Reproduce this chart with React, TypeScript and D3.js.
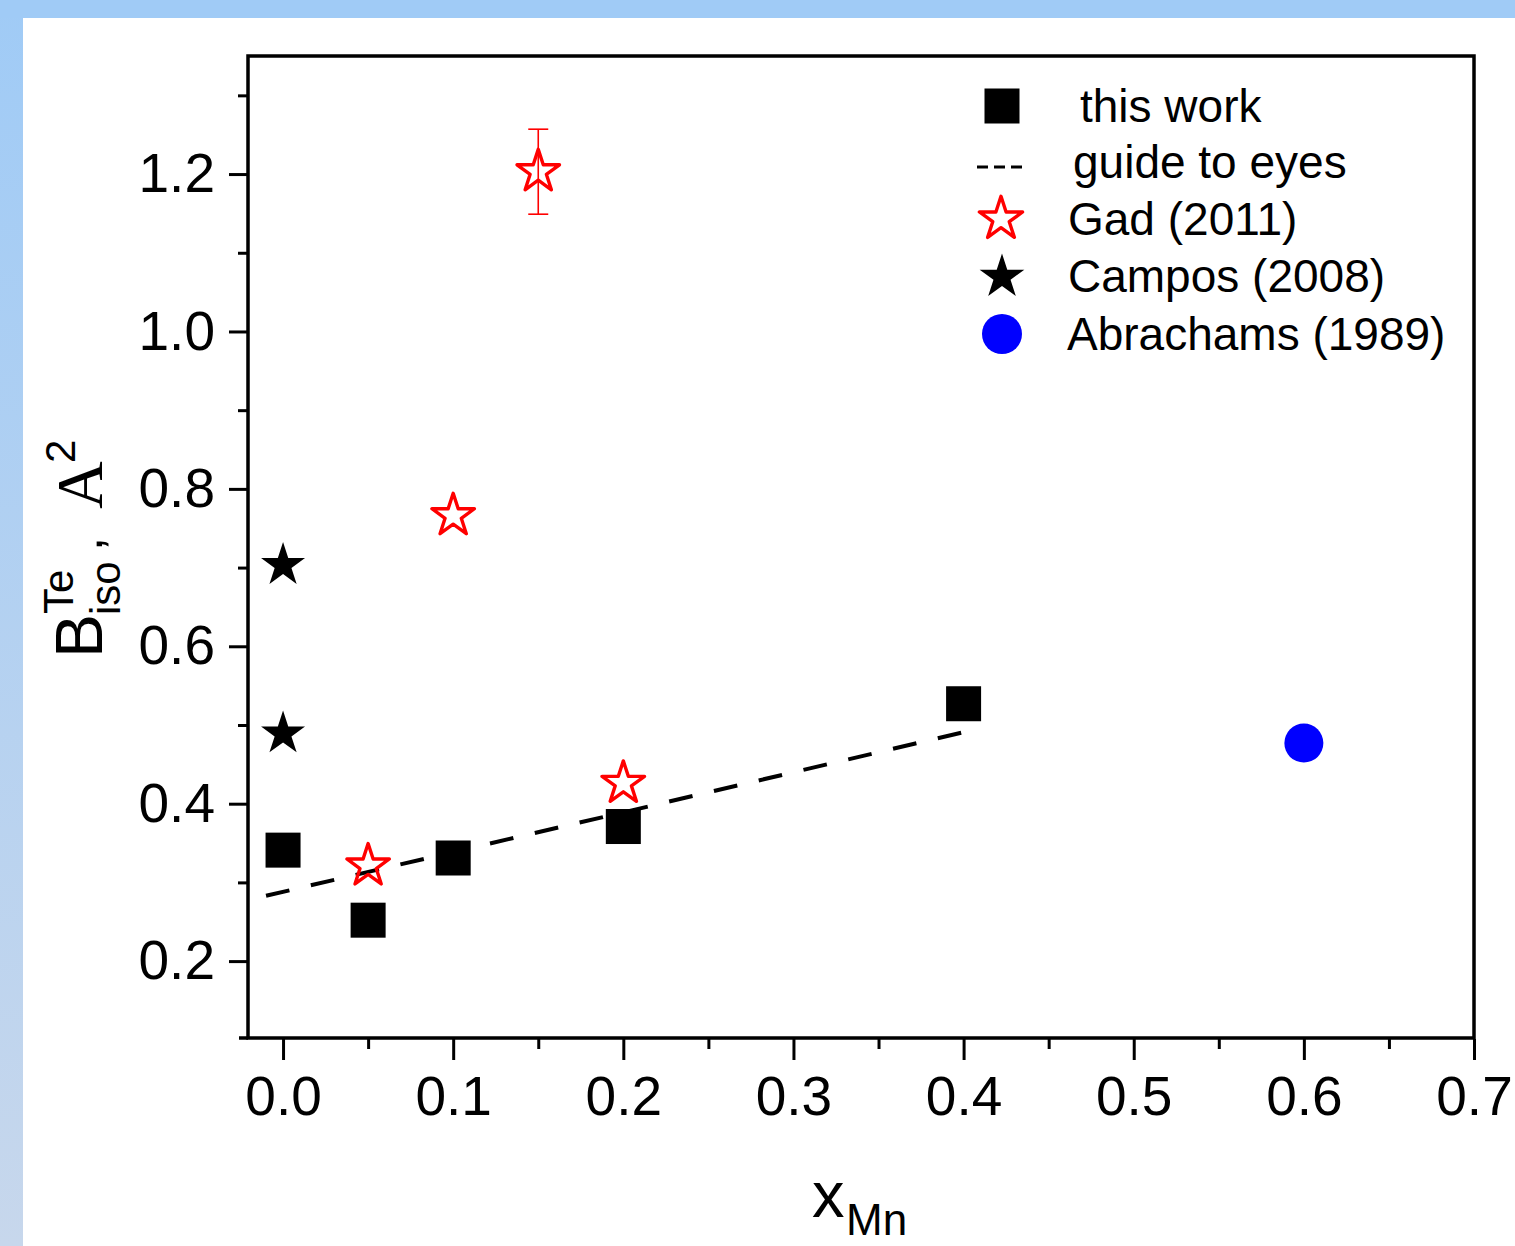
import React, { useRef, useEffect } from "react";
import * as d3 from "d3";

// values
const thisWorkX = [0, 0.05, 0.1, 0.2, 0.4];
const thisWorkY = [0.341, 0.252, 0.331, 0.371, 0.527];

const guideX = [-0.01, 0.2, 0.41];
const guideY = [0.283, 0.389, 0.496];

const gadX = [0.05, 0.1, 0.15, 0.2];
const gadY = [0.321, 0.766, 1.203, 0.426];
const gadErr = [0, 0, 0.054, 0];

const camposX = [0, 0];
const camposY = [0.703, 0.489];

const abrachamsX = [0.6];
const abrachamsY = [0.477];

const xMajor = [0, 0.1, 0.2, 0.3, 0.4, 0.5, 0.6, 0.7];
const xMinor = [0.05, 0.15, 0.25, 0.35, 0.45, 0.55, 0.65];
const yMajor = [0.2, 0.4, 0.6, 0.8, 1.0, 1.2];
const yMinor = [0.3, 0.5, 0.7, 0.9, 1.1, 1.3];

const legendItems = ["this work", "guide to eyes", "Gad (2011)", "Campos (2008)", "Abrachams (1989)"];

const W = 1515;
const H = 1246;
const FONT = "'Liberation Sans', Arial, sans-serif";

const App = () => {
  const gx = useRef<SVGGElement>(null);
  const gxMinor = useRef<SVGGElement>(null);
  const gy = useRef<SVGGElement>(null);
  const gyMinor = useRef<SVGGElement>(null);

  const left = 248;
  const right = 1474;
  const top = 56;
  const bottom = 1038;

  const x = d3.scaleLinear().domain([-0.0206, 0.7]).range([left, right]);
  const y = d3.scaleLinear().domain([0.1023, 1.35]).range([bottom, top]);

  useEffect(() => {
    const style = (g) => {
      g.select(".domain").remove();
      g.selectAll(".tick line").attr("stroke", "#000").attr("stroke-width", 3);
      g.selectAll(".tick text")
        .attr("fill", "#000")
        .style("font-family", FONT)
        .style("font-size", "55px");
    };
    d3.select(gx.current)
      .call(d3.axisBottom(x).tickValues(xMajor).tickSize(21).tickPadding(16).tickFormat(d3.format(".1f")))
      .call(style);
    d3.select(gxMinor.current)
      .call(d3.axisBottom(x).tickValues(xMinor).tickSize(10).tickFormat(() => ""))
      .call(style);
    d3.select(gy.current)
      .call(d3.axisLeft(y).tickValues(yMajor).tickSize(18).tickPadding(14).tickFormat(d3.format(".1f")))
      .call(style);
    d3.select(gyMinor.current)
      .call(d3.axisLeft(y).tickValues(yMinor).tickSize(9).tickFormat(() => ""))
      .call(style);
  }, []);

  // stars drawn a bit larger than d3's default proportions suggest
  const openStar = d3.symbol(d3.symbolStar, 560)();
  const filledStar = d3.symbol(d3.symbolStar, 600)();
  const legendOpenStar = d3.symbol(d3.symbolStar, 580)();
  const legendFilledStar = d3.symbol(d3.symbolStar, 620)();
  const guide = d3
    .line<number>()
    .x((d, i) => x(guideX[i]))
    .y((d) => y(d))(guideY);

  const sq = 35;
  const legX = 1002;
  const legRows = [106, 164, 219, 277, 334];

  return (
    <div style={{ position: "fixed", left: 0, top: 0, width: W, height: H, overflow: "hidden" }}>
      <svg width={W} height={H} style={{ display: "block" }}>
        <defs>
          <linearGradient id="edge" x1="0" y1="0" x2="0" y2="1">
            <stop offset="0" stopColor="#a0cbf6" />
            <stop offset="1" stopColor="#c7d7ec" />
          </linearGradient>
        </defs>
        <rect x={0} y={0} width={W} height={H} fill="#fff" />
        <rect x={0} y={0} width={23} height={H} fill="url(#edge)" />
        <rect x={0} y={0} width={W} height={18} fill="#a0cbf6" />

        {/* frame */}
        <rect x={left} y={top} width={right - left} height={bottom - top} fill="none" stroke="#000" strokeWidth={3.5} />
        <line x1={239} x2={left} y1={bottom} y2={bottom} stroke="#000" strokeWidth={3.5} />

        <g ref={gx} transform={`translate(0, ${bottom + 1})`} />
        <g ref={gxMinor} transform={`translate(0, ${bottom + 1})`} />
        <g ref={gy} transform={`translate(${left - 1}, 0)`} />
        <g ref={gyMinor} transform={`translate(${left - 1}, 0)`} />

        {/* guide to eyes */}
        <path d={guide} fill="none" stroke="#000" strokeWidth={4} strokeDasharray="24 22" />

        {/* this work */}
        {thisWorkX.map((d, i) => (
          <rect key={i} x={x(d) - sq / 2} y={y(thisWorkY[i]) - sq / 2} width={sq} height={sq} fill="#000" />
        ))}

        {/* Gad error bars + stars */}
        {gadX.map((d, i) =>
          gadErr[i] > 0 ? (
            <g key={"e" + i} stroke="red" strokeWidth={1.6}>
              <line x1={x(d)} x2={x(d)} y1={y(gadY[i] + gadErr[i])} y2={y(gadY[i] - gadErr[i])} />
              <line x1={x(d) - 10} x2={x(d) + 10} y1={y(gadY[i] + gadErr[i])} y2={y(gadY[i] + gadErr[i])} />
              <line x1={x(d) - 10} x2={x(d) + 10} y1={y(gadY[i] - gadErr[i])} y2={y(gadY[i] - gadErr[i])} />
            </g>
          ) : null
        )}
        {gadX.map((d, i) => (
          <path key={i} d={openStar} transform={`translate(${x(d)}, ${y(gadY[i])})`} fill="none" stroke="red" strokeWidth={3.4} strokeLinejoin="round" />
        ))}

        {/* Campos */}
        {camposX.map((d, i) => (
          <path key={i} d={filledStar} transform={`translate(${x(d)}, ${y(camposY[i])})`} fill="#000" />
        ))}

        {/* Abrachams */}
        {abrachamsX.map((d, i) => (
          <circle key={i} cx={x(d)} cy={y(abrachamsY[i])} r={19.5} fill="#0000ff" />
        ))}

        {/* legend */}
        <g style={{ fontFamily: FONT, fontSize: 46 }} fill="#000">
          <rect x={legX - 17.5} y={legRows[0] - 17.5} width={35} height={35} fill="#000" />
          <line x1={977} x2={1022} y1={legRows[1] + 3} y2={legRows[1] + 3} stroke="#000" strokeWidth={3} strokeDasharray="11 6" />
          <path d={legendOpenStar} transform={`translate(${legX - 1}, ${legRows[2]})`} fill="none" stroke="red" strokeWidth={3.4} strokeLinejoin="round" />
          <path d={legendFilledStar} transform={`translate(${legX}, ${legRows[3]})`} fill="#000" />
          <circle cx={legX} cy={legRows[4]} r={20} fill="#0000ff" />
          <text x={1080} y={122}>{legendItems[0]}</text>
          <text x={1073} y={178}>{legendItems[1]}</text>
          <text x={1068} y={235}>{legendItems[2]}</text>
          <text x={1068} y={292}>{legendItems[3]}</text>
          <text x={1067} y={350}>{legendItems[4]}</text>
        </g>

        {/* x title */}
        <g style={{ fontFamily: FONT }} fill="#000">
          <text x={812} y={1217} fontSize={65}>x</text>
          <text x={846} y={1235} fontSize={44}>Mn</text>
        </g>

        {/* y title */}
        <g transform="translate(102, 655) rotate(-90)" style={{ fontFamily: FONT }} fill="#000">
          <text x={-3} y={0} fontSize={66}>B</text>
          <text x={41} y={-29} fontSize={42}>Te</text>
          <text x={40} y={18} fontSize={42}>iso</text>
          <text x={104} y={0} fontSize={50}>,</text>
          <text x={146} y={0} fontSize={66} style={{ fontFamily: "'Liberation Serif', 'Times New Roman', serif" }}>A</text>
          <text x={192} y={-27} fontSize={42}>2</text>
        </g>
      </svg>
    </div>
  );
};

export default App;
